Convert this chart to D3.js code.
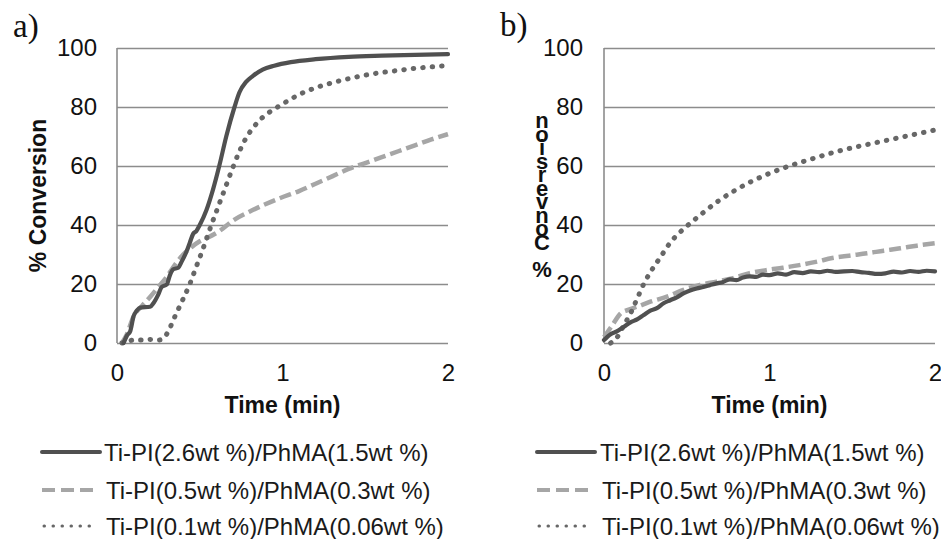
<!DOCTYPE html>
<html><head><meta charset="utf-8">
<script src="https://cdn.jsdelivr.net/npm/d3@7"></script>
<style>body{margin:0;background:#fff}svg{display:block}</style>
</head><body>
<svg id="chart" width="941" height="539"></svg>
<script>
// ---------- data ----------
const seriesLabels = [
  "Ti-PI(2.6wt %)/PhMA(1.5wt %)",
  "Ti-PI(0.5wt %)/PhMA(0.3wt %)",
  "Ti-PI(0.1wt %)/PhMA(0.06wt %)"
];
const xTickValues = [0, 1, 2];
const yTickValues = [0, 20, 40, 60, 80, 100];
const panelLabels = ["a)", "b)"];
const xTitle = "Time (min)";
const yTitle = "% Conversion";

// panel a
const timeA1 = [0.04,0.06,0.08,0.10,0.12,0.14,0.20,0.22,0.25,0.27,0.30,0.32,0.34,0.37,0.39,0.42,0.44,0.46,0.48,0.50,0.54,0.58,0.62,0.66,0.71,0.74,0.78,0.82,0.88,0.95,1.05,1.2,1.4,1.6,1.8,2.0];
const convA1 = [0,2.5,4,9,11,12,12.3,13.5,16.5,19,19.8,23,25,25.5,27.5,31,34,37,38,40,45,52,60.5,70,80,85,88.5,90.5,92.7,94,95.2,96.2,97,97.4,97.7,97.9];
const timeA2 = [0.03,0.06,0.10,0.15,0.20,0.25,0.30,0.35,0.40,0.45,0.50,0.55,0.62,0.70,0.80,0.98,1.1,1.2,1.3,1.4,1.5,1.6,1.7,1.8,1.9,2.0];
const convA2 = [0,3,9,12.5,15.6,19,22.4,26.5,30,32.5,34.5,35.8,38,41.5,44.5,49,51.5,54,56.5,59,61,63,65,67,69,70.8];
const timeA3 = [0.03,0.06,0.10,0.15,0.20,0.25,0.28,0.31,0.35,0.40,0.44,0.48,0.52,0.57,0.61,0.65,0.70,0.74,0.78,0.83,0.88,0.95,1.0,1.1,1.2,1.3,1.4,1.5,1.6,1.7,1.8,1.9,2.0];
const convA3 = [0,0.5,1,1,1.2,1,1.5,4,9,15,20,26,32,40,46,52,59.5,65,69.5,73.5,76.5,79.3,81,84.2,86.5,88.2,89.6,90.8,91.7,92.4,93.1,93.6,94.1];

// panel b
const timeB1 = [0,0.04,0.08,0.12,0.16,0.20,0.24,0.28,0.32,0.36,0.40,0.44,0.48,0.52,0.56,0.60,0.64,0.68,0.72,0.76,0.80,0.84,0.88,0.92,0.96,1.0,1.05,1.1,1.15,1.2,1.25,1.3,1.35,1.4,1.45,1.5,1.55,1.6,1.65,1.7,1.75,1.8,1.85,1.9,1.95,2.0];
const convB1 = [1,3,4,5.5,7,8,9.5,11,11.8,13.5,14.5,15.5,16.8,17.8,18.5,19,19.6,20.2,20.7,21.6,21.3,22.2,22.6,22.4,23.2,23,23.6,23.2,24,23.7,24.3,24,24.5,24.1,24.3,24.4,24,23.8,23.4,23.6,24.2,23.9,24.4,24.1,24.5,24.3];
const timeB2 = [0,0.05,0.10,0.15,0.20,0.28,0.38,0.48,0.58,0.68,0.78,0.88,0.98,1.08,1.18,1.28,1.38,1.48,1.59,1.69,1.79,1.89,2.0];
const convB2 = [2,6,10,11.3,12.3,14,15.7,18,19.7,20.8,22,23.7,24.7,25.5,26.4,27.5,28.8,29.6,30.4,31.3,32.1,33,33.8];
const timeB3 = [0.04,0.08,0.12,0.16,0.20,0.24,0.28,0.34,0.40,0.46,0.53,0.60,0.70,0.80,0.90,1.0,1.12,1.25,1.4,1.55,1.7,1.85,2.0];
const convB3 = [0,2,6,10,15,20,24,29,34,37.6,41,44.2,48.5,52,55,57.5,60,62.3,64.8,66.8,68.6,70.4,72.2];

// ---------- drawing ----------
const svg = d3.select("#chart");
svg.append("rect").attr("width", 941).attr("height", 539).attr("fill", "#fff");
const SANS = "'Liberation Sans', Arial, sans-serif";
const SERIF = "'Liberation Serif', 'Times New Roman', serif";

const styles = [
  {color: "#505050", width: 4.2, dash: null, cap: "round"},
  {color: "#a6a6a6", width: 4.5, dash: "12,5", cap: "butt"},
  {color: "#676767", width: 5, dash: "0.5,9", cap: "round"}
];
const legendDash = [null, "13,6", "0.5,8.5"];

function zip(t, v) { return t.map((d, i) => ({t: d, v: v[i]})); }

const panels = [
  {left: 117, right: 448, label: panelLabels[0], labelX: 13, labelY: 37, tickPad: 20,
   series: [zip(timeA1, convA1), zip(timeA2, convA2), zip(timeA3, convA3)],
   legendX0: 42, legendX1: 100, legendTextX: 104, stacked: false},
  {left: 604, right: 935, label: panelLabels[1], labelX: 500, labelY: 36, tickPad: 21,
   series: [zip(timeB1, convB1), zip(timeB2, convB2), zip(timeB3, convB3)],
   legendX0: 537, legendX1: 595, legendTextX: 600, stacked: true}
];
const plotTop = 48, plotBottom = 343;
const legendRows = [452, 490, 526];

panels.forEach(p => {
  const x = d3.scaleLinear().domain([0, 2]).range([p.left, p.right]);
  const y = d3.scaleLinear().domain([0, 100]).range([plotBottom, plotTop]);
  const g = svg.append("g");

  // grid + y labels
  const ya = g.append("g").attr("transform", `translate(${p.left},0)`)
    .call(d3.axisLeft(y).tickValues(yTickValues).tickSize(-(p.right - p.left)).tickPadding(p.tickPad));
  ya.select(".domain").remove();
  ya.selectAll(".tick line").attr("stroke", "#8c8c8c").attr("stroke-width", 1.6);
  ya.selectAll(".tick text").attr("font-family", SANS).attr("font-size", 24).attr("fill", "#111");
  g.append("line").attr("x1", p.left).attr("x2", p.left).attr("y1", plotTop).attr("y2", plotBottom)
    .attr("stroke", "#8c8c8c").attr("stroke-width", 1.6);

  // x labels
  const xa = g.append("g").attr("transform", `translate(0,${plotBottom})`)
    .call(d3.axisBottom(x).tickValues(xTickValues).tickSize(0).tickPadding(21).tickFormat(d3.format("d")));
  xa.select(".domain").remove();
  xa.selectAll(".tick text").attr("font-family", SANS).attr("font-size", 24).attr("fill", "#111");

  // x title
  g.append("text").attr("x", (p.left + p.right) / 2).attr("y", 413).attr("text-anchor", "middle")
    .attr("font-family", SANS).attr("font-weight", "bold").attr("font-size", 23).attr("fill", "#111")
    .text(xTitle);

  // y title
  if (!p.stacked) {
    g.append("text").attr("transform", `translate(46,${(plotTop + plotBottom) / 2}) rotate(-90)`)
      .attr("text-anchor", "middle").attr("font-family", SANS).attr("font-weight", "bold")
      .attr("font-size", 23).attr("fill", "#111").text(yTitle);
  } else {
    // glitched stacked title: upright glyphs running bottom-to-top
    g.append("text")
      .attr("x", 542).attr("y", 270)
      .attr("font-family", SANS).attr("font-weight", "bold").attr("font-size", 22).attr("fill", "#111")
      .attr("text-anchor", "start")
      .style("writing-mode", "vertical-rl")
      .style("text-orientation", "upright")
      .style("direction", "rtl")
      .style("unicode-bidi", "bidi-override")
      .style("letter-spacing", "-11.5px")
      .text(yTitle);
  }

  // panel label
  g.append("text").attr("x", p.labelX).attr("y", p.labelY).attr("font-family", SERIF)
    .attr("font-size", 33).attr("fill", "#111").text(p.label);

  // series
  const line = d3.line().x(d => x(d.t)).y(d => y(d.v)).curve(d3.curveMonotoneX);
  [1, 2, 0].forEach(i => {
    const s = styles[i];
    g.append("path").datum(p.series[i]).attr("d", line).attr("fill", "none")
      .attr("stroke", s.color).attr("stroke-width", s.width)
      .attr("stroke-linecap", s.cap).attr("stroke-linejoin", "round")
      .attr("stroke-dasharray", s.dash);
  });

  // legend
  seriesLabels.forEach((lab, i) => {
    const s = styles[i];
    const cy = legendRows[i];
    g.append("line").attr("x1", p.legendX0 + (i === 2 ? 2 : 0)).attr("x2", i === 0 ? p.legendX1 : p.legendX1 - 7)
      .attr("y1", cy).attr("y2", cy).attr("stroke", s.color)
      .attr("stroke-width", i === 2 ? 3 : 4).attr("stroke-linecap", s.cap)
      .attr("stroke-dasharray", legendDash[i]);
    g.append("text").attr("x", p.legendTextX + (i === 0 ? 0 : 2)).attr("y", cy + 8.5)
      .attr("font-family", SANS).attr("font-size", 24).attr("fill", "#1a1a1a").text(lab);
  });
});
</script>
</body></html>
